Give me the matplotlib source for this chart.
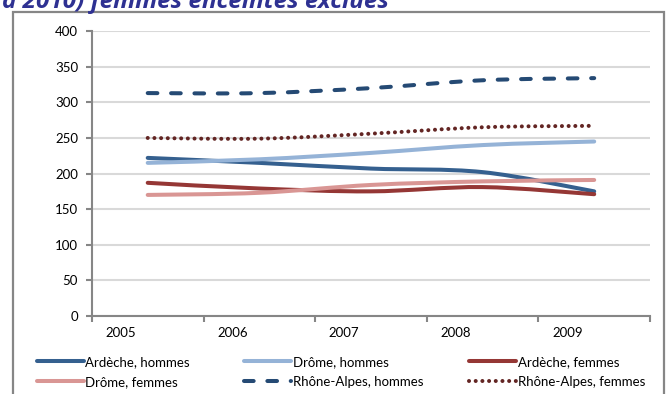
import matplotlib
matplotlib.use("Agg")
import matplotlib.pyplot as plt
from matplotlib.path import Path
from matplotlib.patches import PathPatch, Rectangle
from matplotlib.lines import Line2D

# Values (per year)
years = ["2005", "2006", "2007", "2008", "2009"]
ardeche_h = [222, 215, 207, 202, 175]
drome_h = [215, 220, 229, 240, 245]
ardeche_f = [187, 179, 175, 181, 171]
drome_f = [170, 173, 184, 189, 191]
ra_h = [313, 313, 320, 331, 334]
ra_f = [250, 249, 256, 265, 267]

labels = ["Ardèche, hommes", "Drôme, hommes", "Ardèche, femmes",
          "Drôme, femmes", "Rhône-Alpes, hommes", "Rhône-Alpes, femmes"]

plt.rcParams['font.family'] = ['Lato', 'DejaVu Sans']


def smooth_path(xs, ys):
    """Bezier path through the points (Excel-like smoothed line)."""
    n = len(xs)
    verts = [(xs[0], ys[0])]
    codes = [Path.MOVETO]
    for i in range(n - 1):
        x0, y0 = xs[max(i - 1, 0)], ys[max(i - 1, 0)]
        x1, y1 = xs[i], ys[i]
        x2, y2 = xs[i + 1], ys[i + 1]
        x3, y3 = xs[min(i + 2, n - 1)], ys[min(i + 2, n - 1)]
        c1 = (x1 + (x2 - x0) / 6, y1 + (y2 - y0) / 6)
        c2 = (x2 - (x3 - x1) / 6, y2 - (y3 - y1) / 6)
        verts += [c1, c2, (x2, y2)]
        codes += [Path.CURVE4] * 3
    return Path(verts, codes)


fig = plt.figure(figsize=(6.66, 3.94), dpi=100)
ax = fig.add_axes([0.138, 0.198, 0.838, 0.723])

styles = [
    dict(color="#35608f", lw=2.9, ls="-"),
    dict(color="#95b3d7", lw=2.9, ls="-"),
    dict(color="#953735", lw=2.9, ls="-"),
    dict(color="#d99694", lw=2.9, ls="-"),
    dict(color="#254a74", lw=2.9, ls=(0, (2.4, 3.4))),
    dict(color="#632523", lw=2.9, ls=(0, (0.01, 1.65))),
]
series = [ardeche_h, drome_h, ardeche_f, drome_f, ra_h, ra_f]
xpos = list(range(len(years)))
handles = []
for vals, st in zip(series, styles):
    p = PathPatch(smooth_path(xpos, vals), facecolor="none", edgecolor=st["color"],
                  lw=st["lw"], linestyle=st["ls"], capstyle="round", joinstyle="round",
                  zorder=3)
    ax.add_patch(p)
    handles.append(Line2D([], [], color=st["color"], lw=st["lw"], linestyle=st["ls"],
                          solid_capstyle="round", dash_capstyle="round"))

ax.set_xlim(-0.5, 4.5)
ax.set_ylim(0, 400)
ax.set_yticks(range(0, 401, 50))
ax.yaxis.grid(True, color="#d9d9d9", lw=1.5)
ax.set_axisbelow(True)

# category boundaries as ticks, labels slightly left of the data points
ax.set_xticks([i - 0.5 for i in range(len(years) + 1)], minor=True)
ax.set_xticks([i - 0.24 for i in xpos])
ax.set_xticklabels(years)
ax.tick_params(axis="x", which="major", length=0, pad=8, labelsize=9.5)
ax.tick_params(axis="x", which="minor", length=4, width=1.5, color="#868686")
ax.tick_params(axis="y", length=4, width=1.5, color="#868686", labelsize=9.5, pad=6)

for s in ["top", "right"]:
    ax.spines[s].set_visible(False)
for s in ["left", "bottom"]:
    ax.spines[s].set_color("#868686")
    ax.spines[s].set_linewidth(1.5)

# legend in three columns
leg_x = [0.055, 0.366, 0.704]
for k in range(3):
    lg = fig.legend([handles[k], handles[k + 3]], [labels[k], labels[k + 3]],
                    loc="upper left", bbox_to_anchor=(leg_x[k], 0.097), frameon=False,
                    fontsize=9.5, handlelength=3.6, handletextpad=0.1,
                    labelspacing=0.6, borderaxespad=0, borderpad=0)

# outer frame (bottom goes past the image)
fig.patches.append(Rectangle((12.5 / 666, -0.2), 651 / 666, 1.2 - 11.5 / 394,
                             transform=fig.transFigure, facecolor="none",
                             edgecolor="#868686", lw=1.6))

# title, clipped at the top of the image
fig.text(0.003, 1 - 8 / 394, "à 2010) femmes enceintes exclues", fontsize=17.5,
         fontweight="bold", fontstyle="italic", color="#2e3192",
         family=["Open Sans", "DejaVu Sans"], va="baseline", ha="left")

fig.savefig("out.png", dpi=100)
